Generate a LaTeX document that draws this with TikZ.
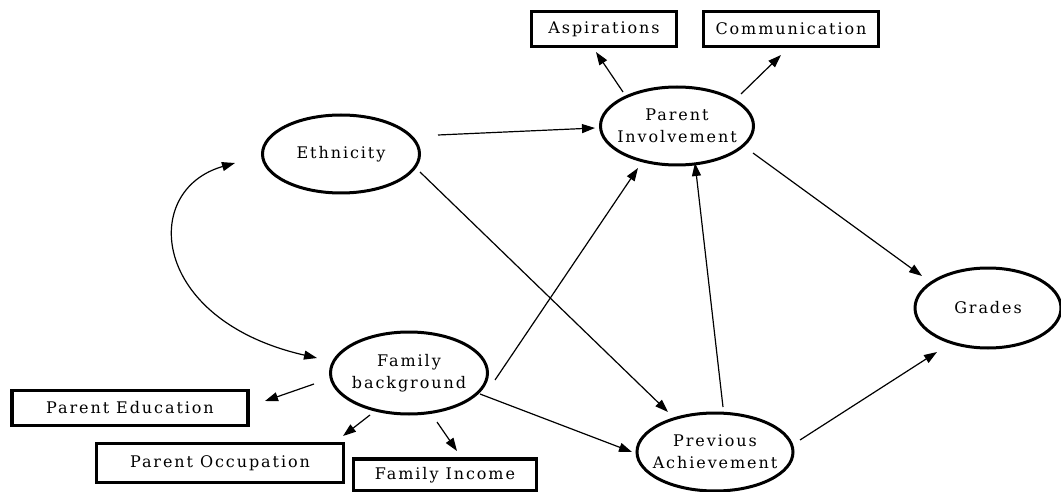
\documentclass[tikz,border=0pt]{standalone}
\usepackage{fontspec}
\setmainfont{DejaVu Serif}[LetterSpace=12]
\usetikzlibrary{arrows.meta,shapes.geometric}

\begin{document}
\begin{tikzpicture}[x=1pt,y=-1pt,
  every node/.style={font=\fontsize{16}{22}\selectfont, align=center, inner sep=0pt},
  % latent constructs: fixed ellipse size, wording placed on top as a centred label
  latent/.style={draw, line width=3pt, ellipse, minimum height=78pt},
  caption/.style={label={center:#1}},
  measure/.style={draw, line width=3.2pt, rectangle, minimum height=35pt},
  link/.style={line width=1.2pt, -{Triangle[length=13pt,width=9pt]}},
  both/.style={line width=1.2pt, {Triangle[length=13pt,width=9pt]}-{Triangle[length=13pt,width=9pt]}}
]
\useasboundingbox (0,0) rectangle (1061,492);

% latent constructs
\node[latent, minimum width=157pt, caption={Ethnicity}] (E) at (341,154) {};
\node[latent, minimum width=153pt, caption={Parent\\Involvement}] (PI) at (677,126) {};
\node[latent, minimum width=146pt, minimum height=80pt, caption={Grades}] (G) at (988,308) {};
\node[latent, minimum width=157pt, minimum height=82pt, caption={Family\\background}] (F) at (409,373) {};
\node[latent, minimum width=156pt, caption={Previous\\Achievement}] (PA) at (715,452) {};

% observed indicators
\node[measure, minimum width=145pt] (A)  at (604,29)  {Aspirations};
\node[measure, minimum width=175pt] (C)  at (791,29)  {Communication};
\node[measure, minimum width=236pt] (PE) at (130,408) {Parent Education};
\node[measure, minimum width=247pt, minimum height=39pt] (PO) at (220,463) {Parent Occupation};
\node[measure, minimum width=183pt, minimum height=32pt] (FI) at (445,475) {Family Income};

% paths
\draw[link] ([shift={(97,-19)}]E.center) -- ([shift={(-82,2)}]PI.center);
\draw[link] ([shift={(79,18)}]E.center) -- ([shift={(-47,-40)}]PA.center);
\draw[both] ([shift={(-106,9)}]E.center) .. controls (140,190) and (150,320) .. ([shift={(-92,-15)}]F.center);
\draw[link] ([shift={(86,7)}]F.center) -- ([shift={(-39,42)}]PI.center);
\draw[link] ([shift={(71,21)}]F.center) -- ([shift={(-83,0)}]PA.center);
\draw[link] ([shift={(-95,11)}]F.center) -- ([shift={(135,-7)}]PE.center);
\draw[link] ([shift={(-39,42)}]F.center) -- ([shift={(123,-27)}]PO.center);
\draw[link] ([shift={(28,49)}]F.center) -- ([shift={(12,-24)}]FI.center);
\draw[link] ([shift={(8,-45)}]PA.center) -- ([shift={(18,37)}]PI.center);
\draw[link] ([shift={(85,-12)}]PA.center) -- ([shift={(-51,44)}]G.center);
\draw[link] ([shift={(76,27)}]PI.center) -- ([shift={(-66,-32)}]G.center);
\draw[link] ([shift={(-54,-34)}]PI.center) -- ([shift={(-8,23)}]A.center);
\draw[link] ([shift={(64,-32)}]PI.center) -- ([shift={(-10,26)}]C.center);
\end{tikzpicture}
\end{document}
